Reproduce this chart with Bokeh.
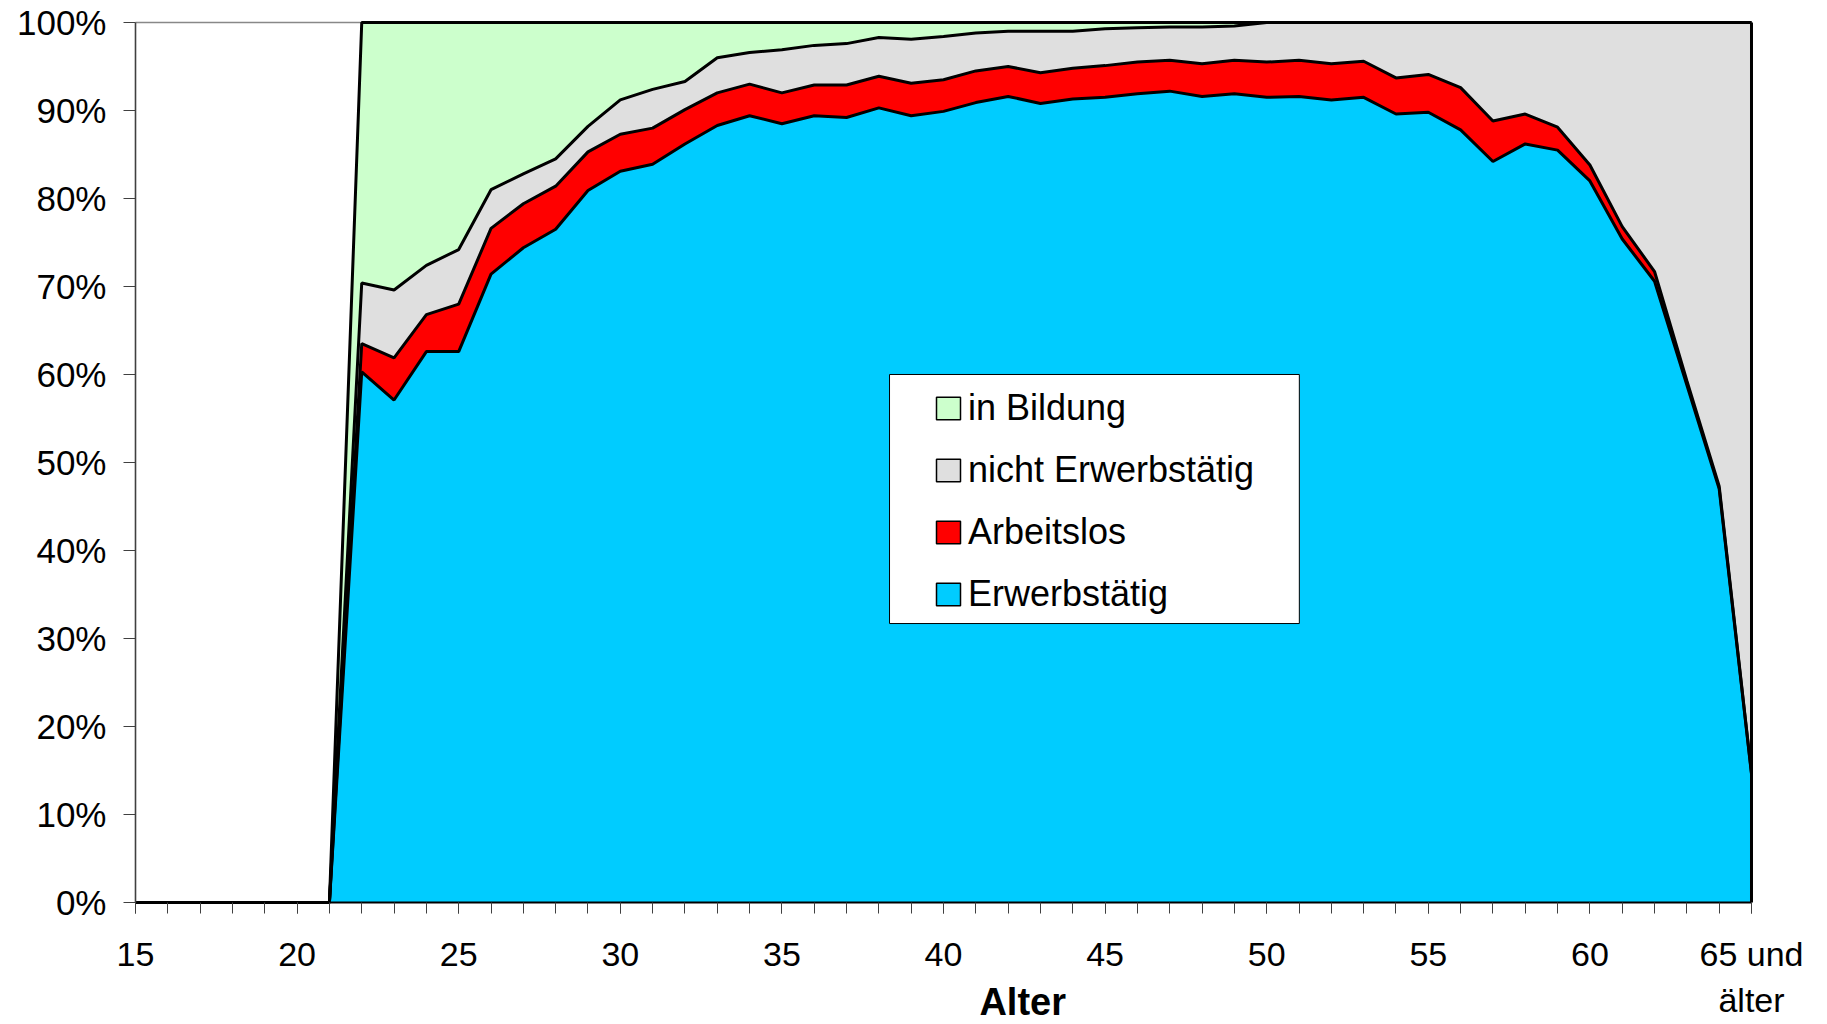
import numpy as np
from bokeh.plotting import figure
from bokeh.models import (ColumnDataSource, Range1d, FixedTicker, PrintfTickFormatter,
                          Legend, LegendItem, BoxAnnotation, Label)
from bokeh.embed import file_html
from bokeh.resources import INLINE

# ---------------- data (percent of age group) ----------------
ages = list(range(15, 66))
x_major_ticks = [15, 20, 25, 30, 35, 40, 45, 50, 55, 60, 65]
x_tick_labels = {65: "65 und\nälter"}
y_ticks = [0, 10, 20, 30, 40, 50, 60, 70, 80, 90, 100]

erwerbstaetig = [0, 0, 0, 0, 0, 0, 0,
                 60.3, 57.1, 62.6, 62.6, 71.4, 74.4, 76.5, 80.9, 83.1, 83.9,
                 86.2, 88.3, 89.4, 88.5, 89.4, 89.2, 90.3, 89.4, 89.9, 90.9,
                 91.6, 90.8, 91.3, 91.5, 91.9, 92.2, 91.6, 91.9, 91.5, 91.6,
                 91.2, 91.5, 89.6, 89.8, 87.8, 84.2, 86.2, 85.5, 82.0, 75.4,
                 70.6, 58.8, 47.0, 14.6]
arbeitslos = [0, 0, 0, 0, 0, 0, 0,
              3.2, 4.8, 4.2, 5.4, 5.2, 5.0, 4.9, 4.4, 4.2, 4.1,
              3.9, 3.7, 3.6, 3.5, 3.5, 3.7, 3.6, 3.7, 3.6, 3.6,
              3.4, 3.5, 3.5, 3.6, 3.6, 3.5, 3.7, 3.8, 4.0, 4.1,
              4.1, 4.1, 4.1, 4.3, 4.8, 4.6, 3.4, 2.6, 1.8, 1.4,
              1.1, 0.5, 0.3, 0.1]
nicht_erwerbstaetig = [0, 0, 0, 0, 0, 0, 0,
                       6.9, 7.7, 5.6, 6.2, 4.4, 3.4, 3.1, 2.9, 3.9, 4.4,
                       3.2, 4.0, 3.6, 4.9, 4.5, 4.7, 4.4, 5.0, 4.9, 4.3,
                       4.0, 4.7, 4.2, 4.2, 3.9, 3.8, 4.2, 3.9, 4.5, 4.3,
                       4.7, 4.4, 6.3, 5.9, 7.4, 11.2, 10.4, 11.9, 16.2, 23.2,
                       28.3, 40.7, 52.7, 85.3]
in_bildung = [0, 0, 0, 0, 0, 0, 0,
              29.6, 30.4, 27.6, 25.8, 19.0, 17.2, 15.5, 11.8, 8.8, 7.6,
              6.7, 4.0, 3.4, 3.1, 2.6, 2.4, 1.7, 1.9, 1.6, 1.2,
              1.0, 1.0, 1.0, 0.7, 0.6, 0.5, 0.5, 0.4, 0, 0,
              0, 0, 0, 0, 0, 0, 0, 0, 0, 0,
              0, 0, 0, 0]

series_names = ["Erwerbstätig", "Arbeitslos", "nicht Erwerbstätig", "in Bildung"]
series_colors = ["#00CCFF", "#FF0000", "#DFDFDF", "#CCFFCC"]

# ---------------- stacking ----------------
xs = np.array(ages, dtype=float)
vals = [np.array(v, dtype=float) for v in (erwerbstaetig, arbeitslos, nicht_erwerbstaetig, in_bildung)]
cum = [np.zeros_like(xs)]
for v in vals:
    cum.append(cum[-1] + v)
src = ColumnDataSource(dict(x=xs, **{f"c{i}": c for i, c in enumerate(cum)}))

FONT = "Liberation Sans"

# the frame fills the whole canvas; both axes are pinned at the data origin
p = figure(width=1819, height=1024,
           x_range=Range1d(10.823, 67.104), y_range=Range1d(-13.864, 102.5),
           output_backend="svg", toolbar_location=None,
           min_border_left=0, min_border_right=0,
           min_border_top=0, min_border_bottom=0,
           background_fill_color="white", border_fill_color="white")
p.outline_line_color = None
p.xgrid.visible = False
p.ygrid.visible = False

# plot-area border at the top (grey)
p.line(x=[ages[0], ages[-1]], y=[y_ticks[-1], y_ticks[-1]], line_color="#888888", line_width=1.5)

# filled areas
for i in range(4):
    p.varea(x="x", y1=f"c{i}", y2=f"c{i+1}", source=src, fill_color=series_colors[i])

# black outlines of each stacked area
for i in range(1, 5):
    p.line(x="x", y=f"c{i}", source=src, line_color="black", line_width=3)
p.segment(x0=[ages[-1]], y0=[0], x1=[ages[-1]], y1=[float(cum[-1][-1])],
          line_color="black", line_width=3)

# axes
p.xaxis.fixed_location = y_ticks[0]
p.xaxis.bounds = (ages[0], ages[-1])
p.xaxis.ticker = FixedTicker(ticks=x_major_ticks, minor_ticks=ages)
p.xaxis.major_label_overrides = x_tick_labels
p.xaxis.axis_line_color = "black"
p.xaxis.axis_line_width = 2
p.xaxis.major_tick_in = 0
p.xaxis.major_tick_out = 11
p.xaxis.minor_tick_in = 0
p.xaxis.minor_tick_out = 11
p.xaxis.major_tick_line_color = "#404040"
p.xaxis.minor_tick_line_color = "#404040"
p.xaxis.major_label_standoff = 22
p.xaxis.major_label_text_font = FONT
p.xaxis.major_label_text_font_size = "34px"
p.xaxis.major_label_text_color = "black"
p.xaxis.major_label_text_line_height = 1.2

p.yaxis.fixed_location = ages[0]
p.yaxis.bounds = (y_ticks[0], y_ticks[-1])
p.yaxis.ticker = FixedTicker(ticks=y_ticks)
p.yaxis.formatter = PrintfTickFormatter(format="%d%%")
p.yaxis.axis_line_color = "#404040"
p.yaxis.axis_line_width = 1.6
p.yaxis.major_tick_in = 0
p.yaxis.major_tick_out = 12
p.yaxis.major_tick_line_color = "#404040"
p.yaxis.minor_tick_line_color = None
p.yaxis.major_label_standoff = 17
p.yaxis.major_label_text_font = FONT
p.yaxis.major_label_text_font_size = "35px"
p.yaxis.major_label_text_color = "black"

# x-axis title
p.add_layout(Label(x=42.45, y=-11.3, x_units="data", y_units="data", text="Alter",
                   text_font=FONT, text_font_style="bold", text_font_size="38px",
                   text_align="center", text_baseline="middle", text_color="black"))

# legend box + legend
p.add_layout(BoxAnnotation(left=38.33, right=51.01, bottom=31.7, top=60.0,
                           fill_color="white", fill_alpha=1.0,
                           line_color="black", line_width=1, line_alpha=1.0))
items = []
for name, color in zip(series_names[::-1], series_colors[::-1]):
    r = p.quad(left=[np.nan], right=[np.nan], top=[np.nan], bottom=[np.nan],
               fill_color=color, line_color="black", line_width=1.5)
    items.append(LegendItem(label=name, renderers=[r]))
legend = Legend(items=items, location=(933, 408), orientation="vertical",
                padding=0, margin=0, spacing=18, glyph_width=30, glyph_height=28,
                label_height=44, label_standoff=5,
                label_text_font=FONT, label_text_font_size="36px", label_text_color="black",
                border_line_alpha=0, background_fill_alpha=0)
p.add_layout(legend, "center")

open("out.html", "w").write(file_html(p, INLINE))
